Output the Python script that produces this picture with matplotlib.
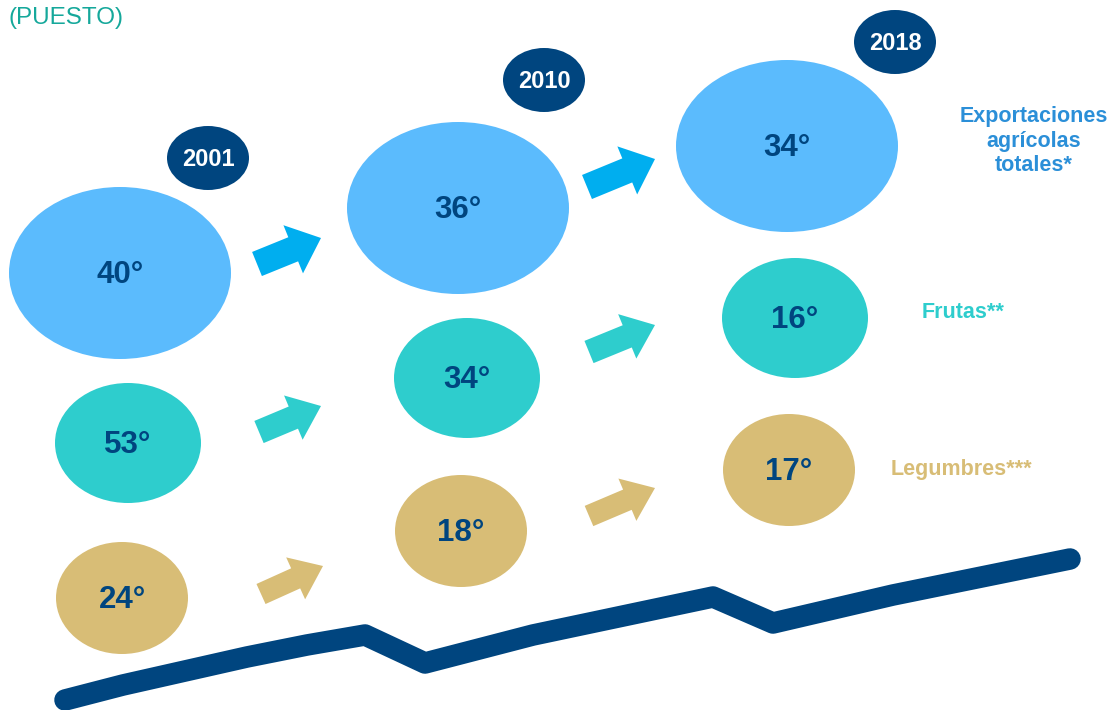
import matplotlib.pyplot as plt
from matplotlib.patches import Ellipse, FancyArrow

# Datos (puesto en el ranking)
anios = ['2001', '2010', '2018']
totales = [40, 36, 34]
frutas = [53, 34, 16]
legumbres = [24, 18, 17]
etiquetas = ['Exportaciones\nagrícolas\ntotales*', 'Frutas**', 'Legumbres***']

# Línea de tendencia decorativa (coordenadas en píxeles)
linea_x = [65, 123, 247, 307, 365, 425, 533, 713, 773, 893, 1070]
linea_y = [700, 685, 657, 645, 635, 663, 635, 597, 623, 595, 559]

azul_claro = '#5bbbfd'
turquesa = '#2ecdcd'
dorado = '#d8bd76'
marino = '#00457f'
azul_flecha = '#00aeef'

fig = plt.figure(figsize=(11.11, 7.10), dpi=100)
ax = fig.add_axes([0, 0, 1, 1])
ax.set_xlim(0, 1111)
ax.set_ylim(710, 0)
ax.axis('off')

# columnas
col_x = [[120, 128, 122], [458, 467, 461], [787, 795, 789]]
col_y = [[273, 443, 598], [208, 378, 531], [146, 318, 470]]
tam = [(222, 172), (146, 120), (132, 112)]
colores = [azul_claro, turquesa, dorado]
series = [totales, frutas, legumbres]

for j in range(3):
    for i in range(3):
        w, h = tam[i]
        ax.add_patch(Ellipse((col_x[j][i], col_y[j][i]), w, h,
                             color=colores[i], lw=0))
        ax.text(col_x[j][i], col_y[j][i] + 2, f'{series[i][j]}°',
                ha='center', va='center', fontsize=22.5, fontweight='bold',
                color=marino, family='Liberation Sans')

# años
badges = [(208, 158), (544, 80), (895, 42)]
for (bx, by), a in zip(badges, anios):
    ax.add_patch(Ellipse((bx, by), 82, 64, color=marino, lw=0))
    ax.text(bx, by + 1, a, ha='center', va='center', fontsize=17,
            fontweight='bold', color='white', family='Liberation Sans')

# flechas
flechas = [
    ((257, 264), (321, 238), azul_flecha, 26, 52),
    ((587, 187), (655, 159), azul_flecha, 26, 52),
    ((259, 432), (321, 406), turquesa, 24, 48),
    ((589, 352), (655, 325), turquesa, 24, 48),
    ((261, 594), (323, 566), dorado, 22, 46),
    ((589, 516), (655, 488), dorado, 22, 46),
]
for (x0, y0), (x1, y1), c, wd, hw in flechas:
    ax.add_patch(FancyArrow(x0, y0, x1 - x0, y1 - y0, width=wd,
                            head_width=hw, head_length=30,
                            length_includes_head=True, color=c, lw=0))

ax.plot(linea_x, linea_y, color=marino, lw=15.5, solid_capstyle='round',
        solid_joinstyle='round')

# etiquetas
ax.text(1034, 141, etiquetas[0], ha='center', va='center', fontsize=15.5,
        fontweight='bold', color='#2b8fd8', family='Liberation Sans',
        linespacing=1.2)
ax.text(963, 312, etiquetas[1], ha='center', va='center', fontsize=15.5,
        fontweight='bold', color=turquesa, family='Liberation Sans')
ax.text(961, 470, etiquetas[2], ha='center', va='center', fontsize=15.5,
        fontweight='bold', color=dorado, family='Liberation Sans')

ax.text(9, 18, '(PUESTO)', ha='left', va='center', fontsize=17.5,
        color='#15a89b', family='Liberation Sans')

fig.savefig('out.png', dpi=100)
